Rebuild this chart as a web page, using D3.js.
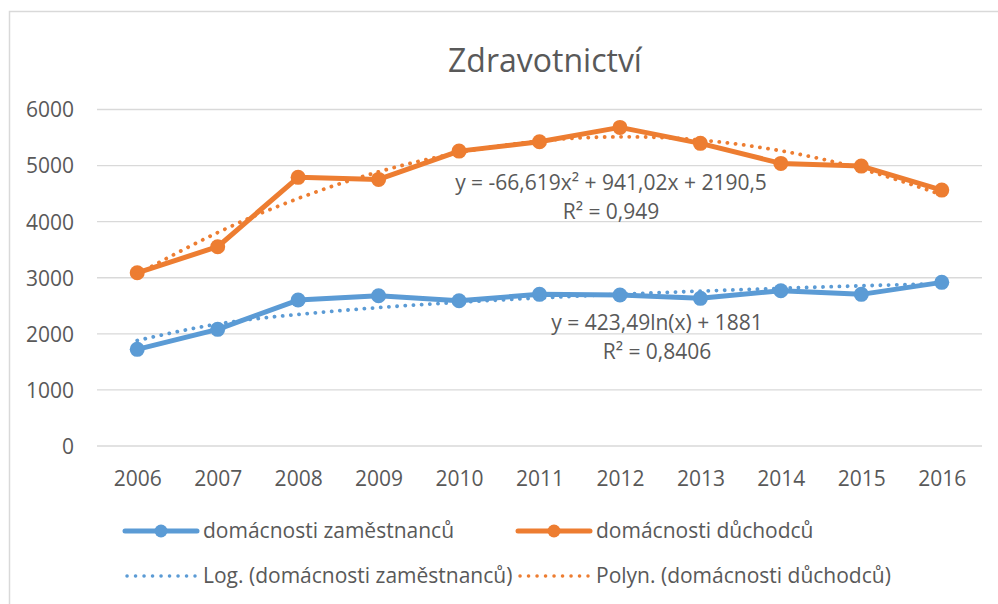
<!DOCTYPE html>
<html>
<head>
<meta charset="utf-8">
<script src="https://cdn.jsdelivr.net/npm/d3@7"></script>
<style>
  html, body { margin: 0; padding: 0; background: #fff; }
  svg { display: block; }
  text { font-family: "Open Sans", "DejaVu Sans", sans-serif; fill: #595959; }
</style>
</head>
<body>
<svg id="chart" width="998" height="604"></svg>
<script>
// ---- data ----
const years = [2006, 2007, 2008, 2009, 2010, 2011, 2012, 2013, 2014, 2015, 2016];
const zamestnancu = [1723, 2080, 2602, 2680, 2590, 2704, 2692, 2633, 2768, 2704, 2918];
const duchodcu = [3089, 3553, 4790, 4754, 5258, 5424, 5681, 5396, 5039, 4991, 4563];
const yTicks = [0, 1000, 2000, 3000, 4000, 5000, 6000];
// trendline coefficients shown on the chart
const logCoef = [423.49, 1881];            // y = a ln(x) + b
const polyCoef = [-66.619, 941.02, 2190.5]; // y = a x^2 + b x + c
const seriesNames = ["domácnosti zaměstnanců", "domácnosti důchodců"];
const trendNames = ["Log. (domácnosti zaměstnanců)", "Polyn. (domácnosti důchodců)"];
const eqPoly = ["y = -66,619x² + 941,02x + 2190,5", "R² = 0,949"];
const eqLog = ["y = 423,49ln(x) + 1881", "R² = 0,8406"];
const title = "Zdravotnictví";

const BLUE = "#5B9BD5", ORANGE = "#ED7D31", GRID = "#D9D9D9";
const FS = 21;

const svg = d3.select("#chart");

// chart border
svg.append("rect").attr("x", 9.5).attr("y", 11.5).attr("width", 1000).attr("height", 620)
  .attr("fill", "none").attr("stroke", GRID).attr("stroke-width", 1.5);

const x = d3.scalePoint().domain(years).range([97, 982]).padding(0.5);
const y = d3.scaleLinear().domain([0, 6000]).range([446, 109.5]);

// gridlines
svg.append("g").selectAll("line").data(yTicks).join("line")
  .attr("x1", 97).attr("x2", 982)
  .attr("y1", d => y(d)).attr("y2", d => y(d))
  .attr("stroke", GRID).attr("stroke-width", 1.3);

// y axis labels
const yAxis = d3.axisLeft(y).tickValues(yTicks).tickSize(0).tickPadding(0).tickFormat(d3.format("d"));
const gy = svg.append("g").attr("transform", "translate(74,0)").call(yAxis);
gy.select(".domain").remove();
gy.selectAll("text").attr("font-size", FS).attr("font-family", null).attr("fill", "#595959").attr("dy", "0.35em");

// x axis labels
const xAxis = d3.axisBottom(x).tickSize(0).tickPadding(0);
const gx = svg.append("g").attr("transform", "translate(0,470)").call(xAxis);
gx.select(".domain").remove();
gx.selectAll("text").attr("font-size", FS).attr("font-family", null).attr("fill", "#595959").attr("dy", "0.75em");

// title
svg.append("text").attr("x", 545).attr("y", 72).attr("text-anchor", "middle")
  .attr("font-size", 32).text(title);

const line = d3.line().x((d, i) => x(years[i])).y(d => y(d));

function drawSeries(vals, color) {
  svg.append("path").datum(vals).attr("d", line)
    .attr("fill", "none").attr("stroke", color).attr("stroke-width", 5)
    .attr("stroke-linejoin", "round");
  svg.append("g").selectAll("circle").data(vals).join("circle")
    .attr("cx", (d, i) => x(years[i])).attr("cy", d => y(d)).attr("r", 7.5)
    .attr("fill", color);
}
drawSeries(zamestnancu, BLUE);
drawSeries(duchodcu, ORANGE);

// trendlines evaluated at each category index (1..11)
const logTrend = years.map((yr, i) => logCoef[0] * Math.log(i + 1) + logCoef[1]);
const polyTrend = years.map((yr, i) => polyCoef[0] * (i + 1) * (i + 1) + polyCoef[1] * (i + 1) + polyCoef[2]);
const trendLine = d3.line().x((d, i) => x(years[i])).y(d => y(d)).curve(d3.curveNatural);

function drawTrend(vals, color) {
  svg.append("path").datum(vals).attr("d", trendLine)
    .attr("fill", "none").attr("stroke", color).attr("stroke-width", 3.8)
    .attr("stroke-linecap", "round").attr("stroke-dasharray", "0.1,8.1");
}
drawTrend(logTrend, BLUE);
drawTrend(polyTrend, ORANGE);

// equation labels
svg.append("g").selectAll("text").data(eqPoly).join("text")
  .attr("x", 611).attr("y", (d, i) => 190 + i * 29).attr("text-anchor", "middle")
  .attr("font-size", FS).text(d => d);
svg.append("g").selectAll("text").data(eqLog).join("text")
  .attr("x", 657).attr("y", (d, i) => 330 + i * 29).attr("text-anchor", "middle")
  .attr("font-size", FS).text(d => d);

// legend
const legendX = [125, 518];
const rowY = [531, 576];
const colors = [BLUE, ORANGE];
colors.forEach((c, i) => {
  const lx = legendX[i];
  svg.append("line").attr("x1", lx).attr("x2", lx + 72).attr("y1", rowY[0]).attr("y2", rowY[0])
    .attr("stroke", c).attr("stroke-width", 5).attr("stroke-linecap", "round");
  svg.append("circle").attr("cx", lx + 36).attr("cy", rowY[0]).attr("r", 6.5).attr("fill", c);
  svg.append("text").attr("x", lx + 78).attr("y", rowY[0]).attr("dy", "0.35em")
    .attr("font-size", FS).text(seriesNames[i]);
  svg.append("line").attr("x1", lx + 2).attr("x2", lx + 70).attr("y1", rowY[1]).attr("y2", rowY[1])
    .attr("stroke", c).attr("stroke-width", 3.5).attr("stroke-linecap", "round")
    .attr("stroke-dasharray", "0.1,8.4");
  svg.append("text").attr("x", lx + 78).attr("y", rowY[1]).attr("dy", "0.35em")
    .attr("font-size", FS).text(trendNames[i]);
});
</script>
</body>
</html>
